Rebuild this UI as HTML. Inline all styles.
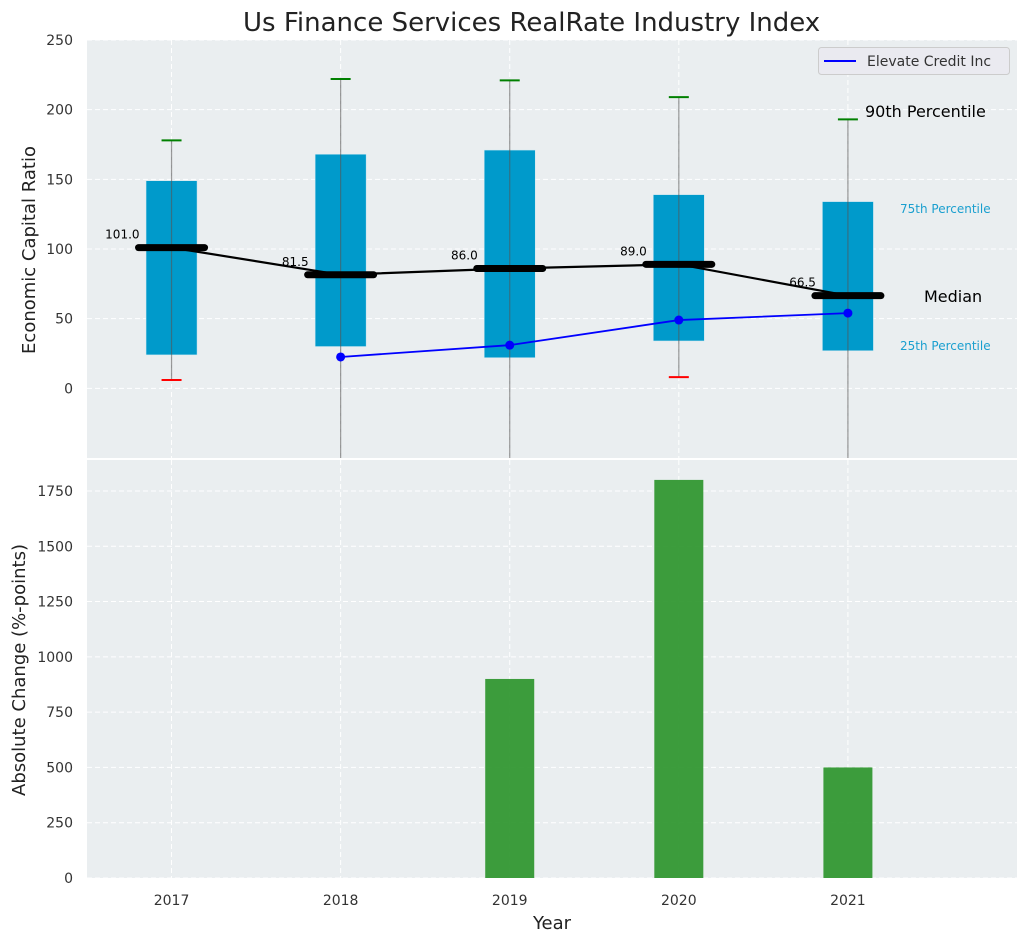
<!DOCTYPE html>
<html><head><meta charset="utf-8"><style>
body{margin:0;background:#fff;font-family:"Liberation Sans","DejaVu Sans",sans-serif;}
svg text{font-family:"DejaVu Sans","Liberation Sans",sans-serif;}
</style></head><body>
<svg id="c" width="1026" height="942" xmlns="http://www.w3.org/2000/svg"></svg>
<script>
const years=[2017,2018,2019,2020,2021];
const q1=[24,30,22,34,27];
const q3=[149,168,171,139,134];
const medians=[101,81.5,86,89,66.5];
const whiskHi=[178,222,221,209,193];
const whiskLo=[6,-60,-60,8,-60];
const loCapShown=[true,false,false,true,false];
const elevYears=[2018,2019,2020,2021];
const elevVals=[22.5,31,49,54];
const changeVals=[0,0,900,1800,500];
const topTicks=[0,50,100,150,200,250];
const botTicks=[0,250,500,750,1000,1250,1500,1750];

const svg=document.getElementById('c');
const NS='http://www.w3.org/2000/svg';
function el(t,a,p){const e=document.createElementNS(NS,t);for(const k in a)e.setAttribute(k,a[k]);(p||svg).appendChild(e);return e;}
const L=87,R=1017;
const x=v=>L+(v-2016.5)/(2022-2016.5)*(R-L);
const T0=40,T1=458,B0=460,B1=878;
const yT=v=>T1-(v+50)/300*(T1-T0);
const yB=v=>B1-v/1890*(B1-B0);

// backgrounds
let e=el('rect',{x:L,y:T0,width:R-L,height:T1-T0,fill:'#eaeef0'});

e=el('rect',{x:L,y:B0,width:R-L,height:B1-B0,fill:'#eaeef0'});


// grids
years.forEach(v=>{el('line',{x1:x(v),x2:x(v),y1:T0,y2:T1,stroke:'#fff','stroke-dasharray':'5,3','stroke-width':1});
el('line',{x1:x(v),x2:x(v),y1:B0,y2:B1,stroke:'#fff','stroke-dasharray':'5,3','stroke-width':1});
const t=el('text',{x:x(v),y:B1+27,'text-anchor':'middle','font-size':14,fill:'#333'});t.textContent=v;
});
topTicks.forEach(v=>{el('line',{x1:L,x2:R,y1:yT(v),y2:yT(v),stroke:'#fff','stroke-dasharray':'5,3','stroke-width':1});
const t=el('text',{x:L-14,y:yT(v)+5,'text-anchor':'end','font-size':14,fill:'#333'});t.textContent=v;
});
botTicks.forEach(v=>{el('line',{x1:L,x2:R,y1:yB(v),y2:yB(v),stroke:'#fff','stroke-dasharray':'5,3','stroke-width':1});
const t=el('text',{x:L-14,y:yB(v)+5,'text-anchor':'end','font-size':14,fill:'#333'});t.textContent=v;
});

const g=el('g',{'clip-path':'url(#cp)'});
const d=el('defs',{});const cp=el('clipPath',{id:'cp'},d);el('rect',{x:L,y:T0,width:R-L,height:T1-T0},cp);

// boxes
years.forEach((v,i)=>{
 const b=el('rect',{x:x(v)-25.5,y:yT(q3[i]),width:51,height:yT(q1[i])-yT(q3[i]),fill:'#009acb',stroke:'#cfe8f2','stroke-width':0.5},g);
 
 const w=el('line',{x1:x(v),x2:x(v),y1:yT(whiskHi[i]),y2:yT(whiskLo[i]),stroke:'#555','stroke-opacity':0.6,'stroke-width':1.2},g);
 
 const c=el('line',{x1:x(v)-10,x2:x(v)+10,y1:yT(whiskHi[i]),y2:yT(whiskHi[i]),stroke:'green','stroke-width':2},g);
 
 if(loCapShown[i]){const c2=el('line',{x1:x(v)-10,x2:x(v)+10,y1:yT(whiskLo[i]),y2:yT(whiskLo[i]),stroke:'red','stroke-width':2},g);
 }
});
// median connecting line
let pts=years.map((v,i)=>x(v)+','+yT(medians[i])).join(' ');
e=el('polyline',{points:pts,fill:'none',stroke:'#000','stroke-width':2.2},g);

years.forEach((v,i)=>{
 const m=el('line',{x1:x(v)-33,x2:x(v)+33,y1:yT(medians[i]),y2:yT(medians[i]),stroke:'#000','stroke-width':7,'stroke-linecap':'round'},g);
 
 const t=el('text',{x:x(v)-32,y:yT(medians[i])-9,'text-anchor':'end','font-size':12,fill:'#000'});t.textContent=medians[i].toFixed(1);
 
});
// elevate line
pts=elevYears.map((v,i)=>x(v)+','+yT(elevVals[i])).join(' ');
e=el('polyline',{points:pts,fill:'none',stroke:'blue','stroke-width':1.8},g);

elevYears.forEach((v,i)=>{const c=el('circle',{cx:x(v),cy:yT(elevVals[i]),r:4.5,fill:'blue'},g);
});

// annotations
function txt(s,xx,yy,sz,col,name){const t=el('text',{x:xx,y:yy,'font-size':sz,fill:col});t.textContent=s;}
txt('90th Percentile',865,117,16,'#000','annotation-90th');
txt('75th Percentile',900,213,12,'#1a9fcf','annotation-75th');
txt('Median',924,302,16,'#000','annotation-median');
txt('25th Percentile',900,350,12,'#1a9fcf','annotation-25th');

// legend
e=el('rect',{x:818.5,y:47.5,width:191,height:27,rx:3,fill:'#eaeaf0',stroke:'#ccc'});

el('line',{x1:824,x2:856,y1:61,y2:61,stroke:'blue','stroke-width':2});
txt('Elevate Credit Inc',867,66,14,'#333','legend-entry-elevate');

// bars
years.forEach((v,i)=>{if(!changeVals[i])return;
 const b=el('rect',{x:x(v)-24.5,y:yB(changeVals[i]),width:49,height:yB(0)-yB(changeVals[i]),fill:'#2e962e','fill-opacity':0.93});
 });

// titles
txt('Us Finance Services RealRate Industry Index',243,31,26,'#222','chart-title');
e=el('text',{x:552,y:929,'text-anchor':'middle','font-size':18,fill:'#222'});e.textContent='Year';

e=el('text',{x:0,y:0,'text-anchor':'middle','font-size':18,fill:'#222',transform:'translate(35,250) rotate(-90)'});e.textContent='Economic Capital Ratio';

e=el('text',{x:0,y:0,'text-anchor':'middle','font-size':18,fill:'#222',transform:'translate(25,670) rotate(-90)'});e.textContent='Absolute Change (%-points)';

</script>
</body></html>
